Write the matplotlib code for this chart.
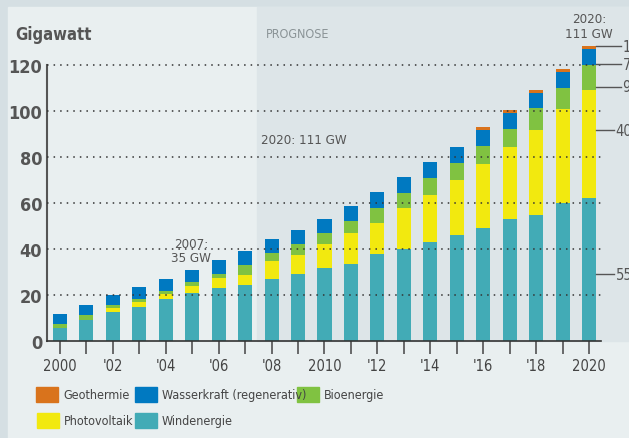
import matplotlib
matplotlib.use("Agg")
import matplotlib.pyplot as plt
import matplotlib.patches as mpatches
import numpy as np

plt.rcParams['font.family'] = ['DejaVu Sans']
plt.rcParams['font.stretch'] = 'condensed'

# installed capacity in GW
years = np.arange(2000, 2021)
wind = [5.7, 9.1, 12.6, 14.8, 18.3, 20.9, 23.0, 24.3, 27.0, 29.1, 31.7,
        33.5, 37.8, 40.0, 43.0, 46.1, 49.1, 53.0, 54.8, 60.0, 62.2]
pv = [0, 0, 1.7, 2.2, 2.1, 3.1, 4.4, 4.4, 7.8, 8.3, 10.5,
      13.5, 13.5, 17.8, 20.5, 23.9, 27.9, 31.3, 36.9, 40.9, 46.9]
bio = [1.7, 2.2, 1.3, 1.3, 1.3, 1.7, 1.7, 4.3, 3.5, 4.8, 4.8,
       5.2, 6.5, 6.5, 7.4, 7.4, 7.8, 7.9, 9.6, 9.1, 10.9]
hydro = [4.3, 4.3, 4.4, 5.2, 5.3, 5.2, 6.1, 6.1, 6.0, 6.1, 6.0,
         6.5, 7.0, 7.0, 6.9, 6.9, 6.9, 6.9, 6.5, 7.0, 7.0]
geo = [0] * 16 + [1.3] * 5

series = [("Windenergie", wind, "#42abb6"),
          ("Photovoltaik", pv, "#f2e90f"),
          ("Bioenergie", bio, "#80c241"),
          ("Wasserkraft (regenerativ)", hydro, "#0079c1"),
          ("Geothermie", geo, "#d9731c")]

yticks = [0, 20, 40, 60, 80, 100, 120]
xlabels = ["2000" if y == 2000 else "2010" if y == 2010 else "2020" if y == 2020
           else ("'%02d" % (y % 100) if y % 2 == 0 else "") for y in years]

# right side callouts for 2020 (cut off at the edge in the original)
callouts = [("1", 47), ("7", 65), ("9", 88), ("40", 131), ("55", 275)]

W, H = 629, 439
fig = plt.figure(figsize=(W / 100, H / 100), dpi=100)
fig.patch.set_facecolor("#d5dfe3")

def px(x, y, w, h):
    return (x / W, 1 - (y + h) / H, w / W, h / H)

# background panels in an axes of their own, below the chart
bg = fig.add_axes((0, 0, 1, 1), zorder=-1)
bg.set_xlim(0, W)
bg.set_ylim(H, 0)
bg.axis("off")
bg.add_patch(mpatches.Rectangle((8, 8), W - 8, H - 8, color="#e9eff0"))
bg.add_patch(mpatches.Rectangle((257, 8), W - 257, 342 - 8, color="#dde5e8"))

ax = fig.add_axes(px(47, 8, W - 47, 342 - 8))
ax.patch.set_alpha(0)
x0 = 2000 - 13 / 26.45
ax.set_xlim(x0, 2000 + (W - 60) / 26.45)
ax.set_ylim(0, (342 - 8) / 2.3)

bottom = np.zeros(len(years))
for name, vals, col in series:
    ax.bar(years, vals, width=0.53, bottom=bottom, color=col, zorder=2)
    bottom += np.array(vals)

# dotted grid above bars
ax.hlines(yticks[1:], x0, 2000 + 543 / 26.45, colors="#333333",
          linestyles=(0, (1, 3.3)), linewidth=1.1, zorder=3)

for s in ["top", "right"]:
    ax.spines[s].set_visible(False)
ax.spines["left"].set_bounds(0, 120)
ax.spines["left"].set_color("#555555")
ax.spines["left"].set_linewidth(1.5)
ax.spines["bottom"].set_bounds(x0, 2000 + 541 / 26.45)
ax.spines["bottom"].set_color("#333333")
ax.spines["bottom"].set_linewidth(1.2)

ax.set_yticks(yticks)
ax.set_yticklabels([str(v) for v in yticks], fontsize=13, fontweight="bold", color="#555555")
ax.tick_params(axis="y", length=0, pad=3.5)
ax.set_xticks(years)
ax.set_xticklabels(xlabels, fontsize=10.5, color="#444444")
ax.tick_params(axis="x", direction="out", length=9.5, width=1.1, color="#444444", pad=2.5)

fig.text(15 / W, 1 - 35 / H, "Gigawatt", fontsize=12, fontweight="bold", color="#555555",
         va="center", ha="left")
fig.text(266 / W, 1 - 35 / H, "PROGNOSE", fontsize=9, color="#8a9396", va="center", ha="left")
fig.text(261 / W, 1 - 140 / H, "2020: 111 GW", fontsize=9.5, color="#555555", va="center")
ax.text(2000 + (191 - 60) / 26.45, 33.3, "2007:\n35 GW", fontsize=9.5, color="#555555",
        ha="center", va="bottom", linespacing=1.15)
ax.text(2020, 131.0, "2020:\n111 GW", fontsize=9.5, color="#555555", ha="center",
        va="bottom", linespacing=1.15)

xr = 2020 + 0.265
for lab, ypx in callouts:
    yv = (342 - ypx) / 2.3
    xend = 621 if len(lab) == 1 else 614
    end = 2000 + (xend - 60) / 26.45
    ax.plot([xr, end], [yv, yv], color="#555555", lw=1, clip_on=False, zorder=3)
    ax.text(end + 0.06, yv, lab, fontsize=10.5, color="#555555", va="center", ha="left",
            clip_on=False)

# legend
leg = [("Geothermie", "#d9731c", 36, 396), ("Wasserkraft (regenerativ)", "#0079c1", 135, 396),
       ("Bioenergie", "#80c241", 297, 396), ("Photovoltaik", "#f2e90f", 37, 422),
       ("Windenergie", "#42abb6", 135, 422)]
for name, col, lx, ly in leg:
    bg.add_patch(mpatches.Rectangle((lx, ly - 7.5), 22, 15, color=col))
    bg.text(lx + 27, ly, name, fontsize=9, color="#444444", va="center", ha="left")

fig.savefig("out.png", dpi=100, facecolor=fig.get_facecolor())
